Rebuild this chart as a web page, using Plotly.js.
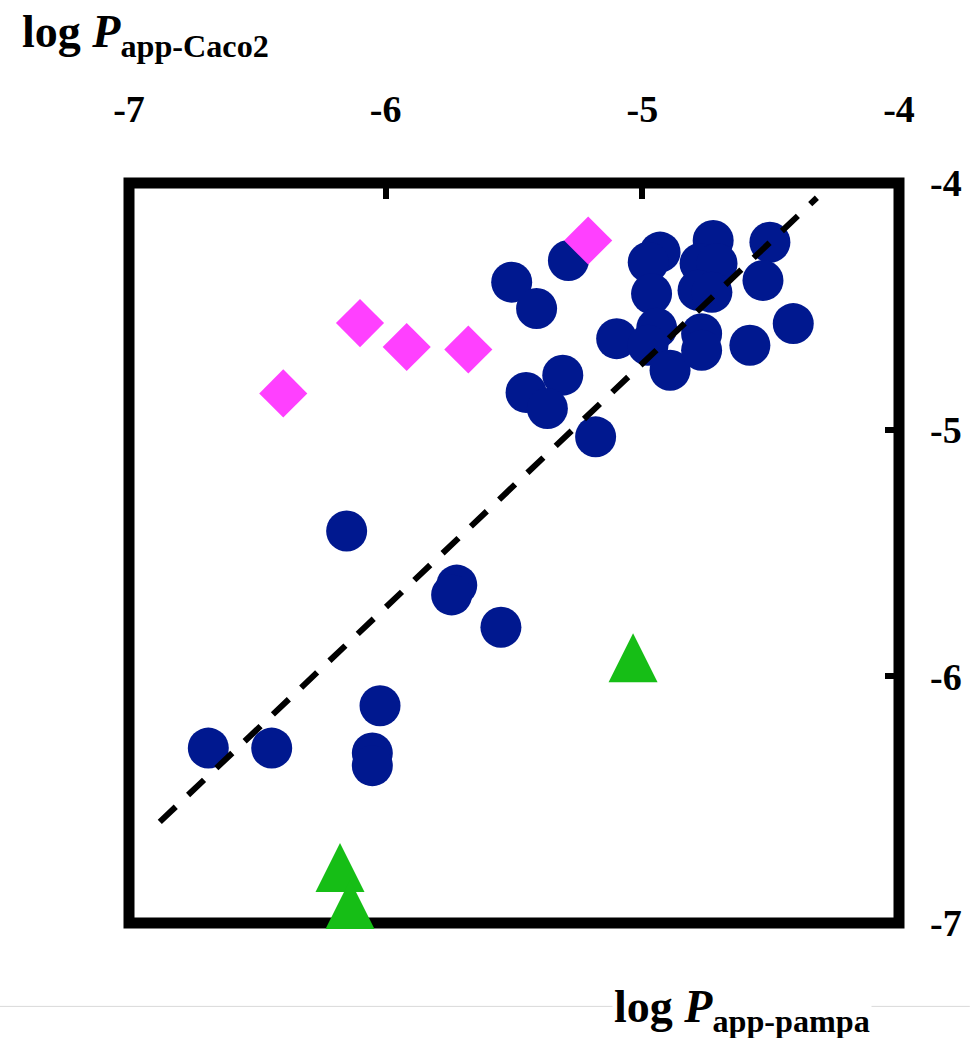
<!DOCTYPE html>
<html>
<head>
<meta charset="utf-8">
<script src="https://cdn.plot.ly/plotly-3.0.1.min.js"></script>
<style>
  html, body { margin: 0; padding: 0; background: #ffffff; }
  #chart { width: 970px; height: 1038px; }
</style>
</head>
<body>
<div id="chart"></div>
<script>
// ---- data ----
var circleX = [-5.509, -5.412, -5.288, -5.310, -5.453, -5.370, -5.182, -5.100,
               -4.931, -4.977, -4.964, -4.944, -4.978, -4.892,
               -4.724, -4.775, -4.709, -4.783, -4.729, -4.769, -4.769,
               -4.581, -4.412, -4.503, -4.530,
               -6.152, -5.723, -5.743, -5.551, -6.022, -6.691, -6.444, -6.052, -6.052];
var circleY = [-4.402, -4.509, -4.314, -4.779, -4.849, -4.914, -5.029, -4.631,
               -4.280, -4.321, -4.449, -4.589, -4.658, -4.759,
               -4.233, -4.326, -4.326, -4.435, -4.443, -4.611, -4.678,
               -4.658, -4.570, -4.240, -4.395,
               -5.411, -5.630, -5.670, -5.801, -6.119, -6.291, -6.291, -6.311, -6.362];

var diamondX = [-5.211, -6.100, -5.918, -5.678, -6.399];
var diamondY = [-4.233, -4.568, -4.665, -4.675, -4.853];

var triangleX = [-6.178, -6.139, -5.036];
var triangleY = [-6.809, -6.959, -5.959];

var fitX = [-6.88, -4.32];
var fitY = [-6.59, -4.06];

var tickVals = [-7, -6, -5, -4];
var tickText = ['-7', '-6', '-5', '-4'];

var titleTop = '<b>log <i>P</i><sub>app-Caco2</sub></b>';
var titleBottom = '<b>log <i>P</i><sub>app-pampa</sub></b>';

// ---- traces ----
var traces = [
  {
    x: circleX, y: circleY, type: 'scatter', mode: 'markers', cliponaxis: false,
    marker: { symbol: 'circle', size: 41, color: 'rgb(0,24,143)', line: { width: 0 } },
    hoverinfo: 'skip'
  },
  {
    x: diamondX, y: diamondY, type: 'scatter', mode: 'markers', cliponaxis: false,
    marker: { symbol: 'diamond', size: 37, color: 'rgb(255,64,255)', line: { width: 0 } },
    hoverinfo: 'skip'
  },
  {
    // upward triangle (arrow marker rotated), centred on its centroid
    x: triangleX, y: triangleY, type: 'scatter', mode: 'markers', cliponaxis: false,
    marker: { symbol: 'arrow-down', angle: 180, standoff: 33, size: 49,
              color: 'rgb(22,190,22)', line: { width: 0 } },
    hoverinfo: 'skip'
  },
  {
    x: fitX, y: fitY, type: 'scatter', mode: 'lines', cliponaxis: false,
    line: { color: '#000000', width: 6, dash: '22px,17px' },
    hoverinfo: 'skip'
  }
];

var tickFont = { family: 'Liberation Serif, Times New Roman, serif', size: 38, color: '#000000', weight: 'bold' };

var layout = {
  width: 970,
  height: 1038,
  margin: { l: 129, r: 71, t: 182.5, b: 114.5, pad: 0 },
  paper_bgcolor: '#ffffff',
  plot_bgcolor: '#ffffff',
  showlegend: false,
  xaxis: {
    range: [-7, -4], side: 'top',
    tickmode: 'array', tickvals: tickVals, ticktext: tickText,
    ticks: 'inside', ticklen: 16, tickwidth: 6, tickcolor: '#000000',
    showline: false, showgrid: false, zeroline: false,
    tickfont: tickFont, ticklabelstandoff: 52
  },
  yaxis: {
    range: [-7, -4], side: 'right',
    tickmode: 'array', tickvals: tickVals, ticktext: tickText,
    ticks: 'inside', ticklen: 14, tickwidth: 6, tickcolor: '#000000',
    showline: false, showgrid: false, zeroline: false,
    tickfont: tickFont, ticklabelstandoff: 30
  },
  shapes: [
    { type: 'rect', xref: 'paper', yref: 'paper', x0: 0, x1: 1, y0: 0, y1: 1,
      line: { color: '#000000', width: 11 }, fillcolor: 'rgba(0,0,0,0)', layer: 'below' },
    { type: 'line', xref: 'paper', yref: 'paper', x0: -0.1675, x1: 1.092, y0: -0.1127, y1: -0.1127,
      line: { color: '#d9d9d9', width: 1 }, layer: 'below' }
  ],
  annotations: [
    { text: titleTop, xref: 'paper', yref: 'paper', x: -0.1416, y: 1.2425,
      xanchor: 'left', yanchor: 'top', showarrow: false,
      font: { family: 'Liberation Serif, Times New Roman, serif', size: 46, color: '#000000' } },
    { text: titleBottom, xref: 'paper', yref: 'paper', x: 0.627, y: -0.075,
      xanchor: 'left', yanchor: 'top', showarrow: false, bgcolor: '#ffffff',
      font: { family: 'Liberation Serif, Times New Roman, serif', size: 46, color: '#000000' } }
  ]
};

Plotly.newPlot('chart', traces, layout, { staticPlot: true, displayModeBar: false });
</script>
</body>
</html>
